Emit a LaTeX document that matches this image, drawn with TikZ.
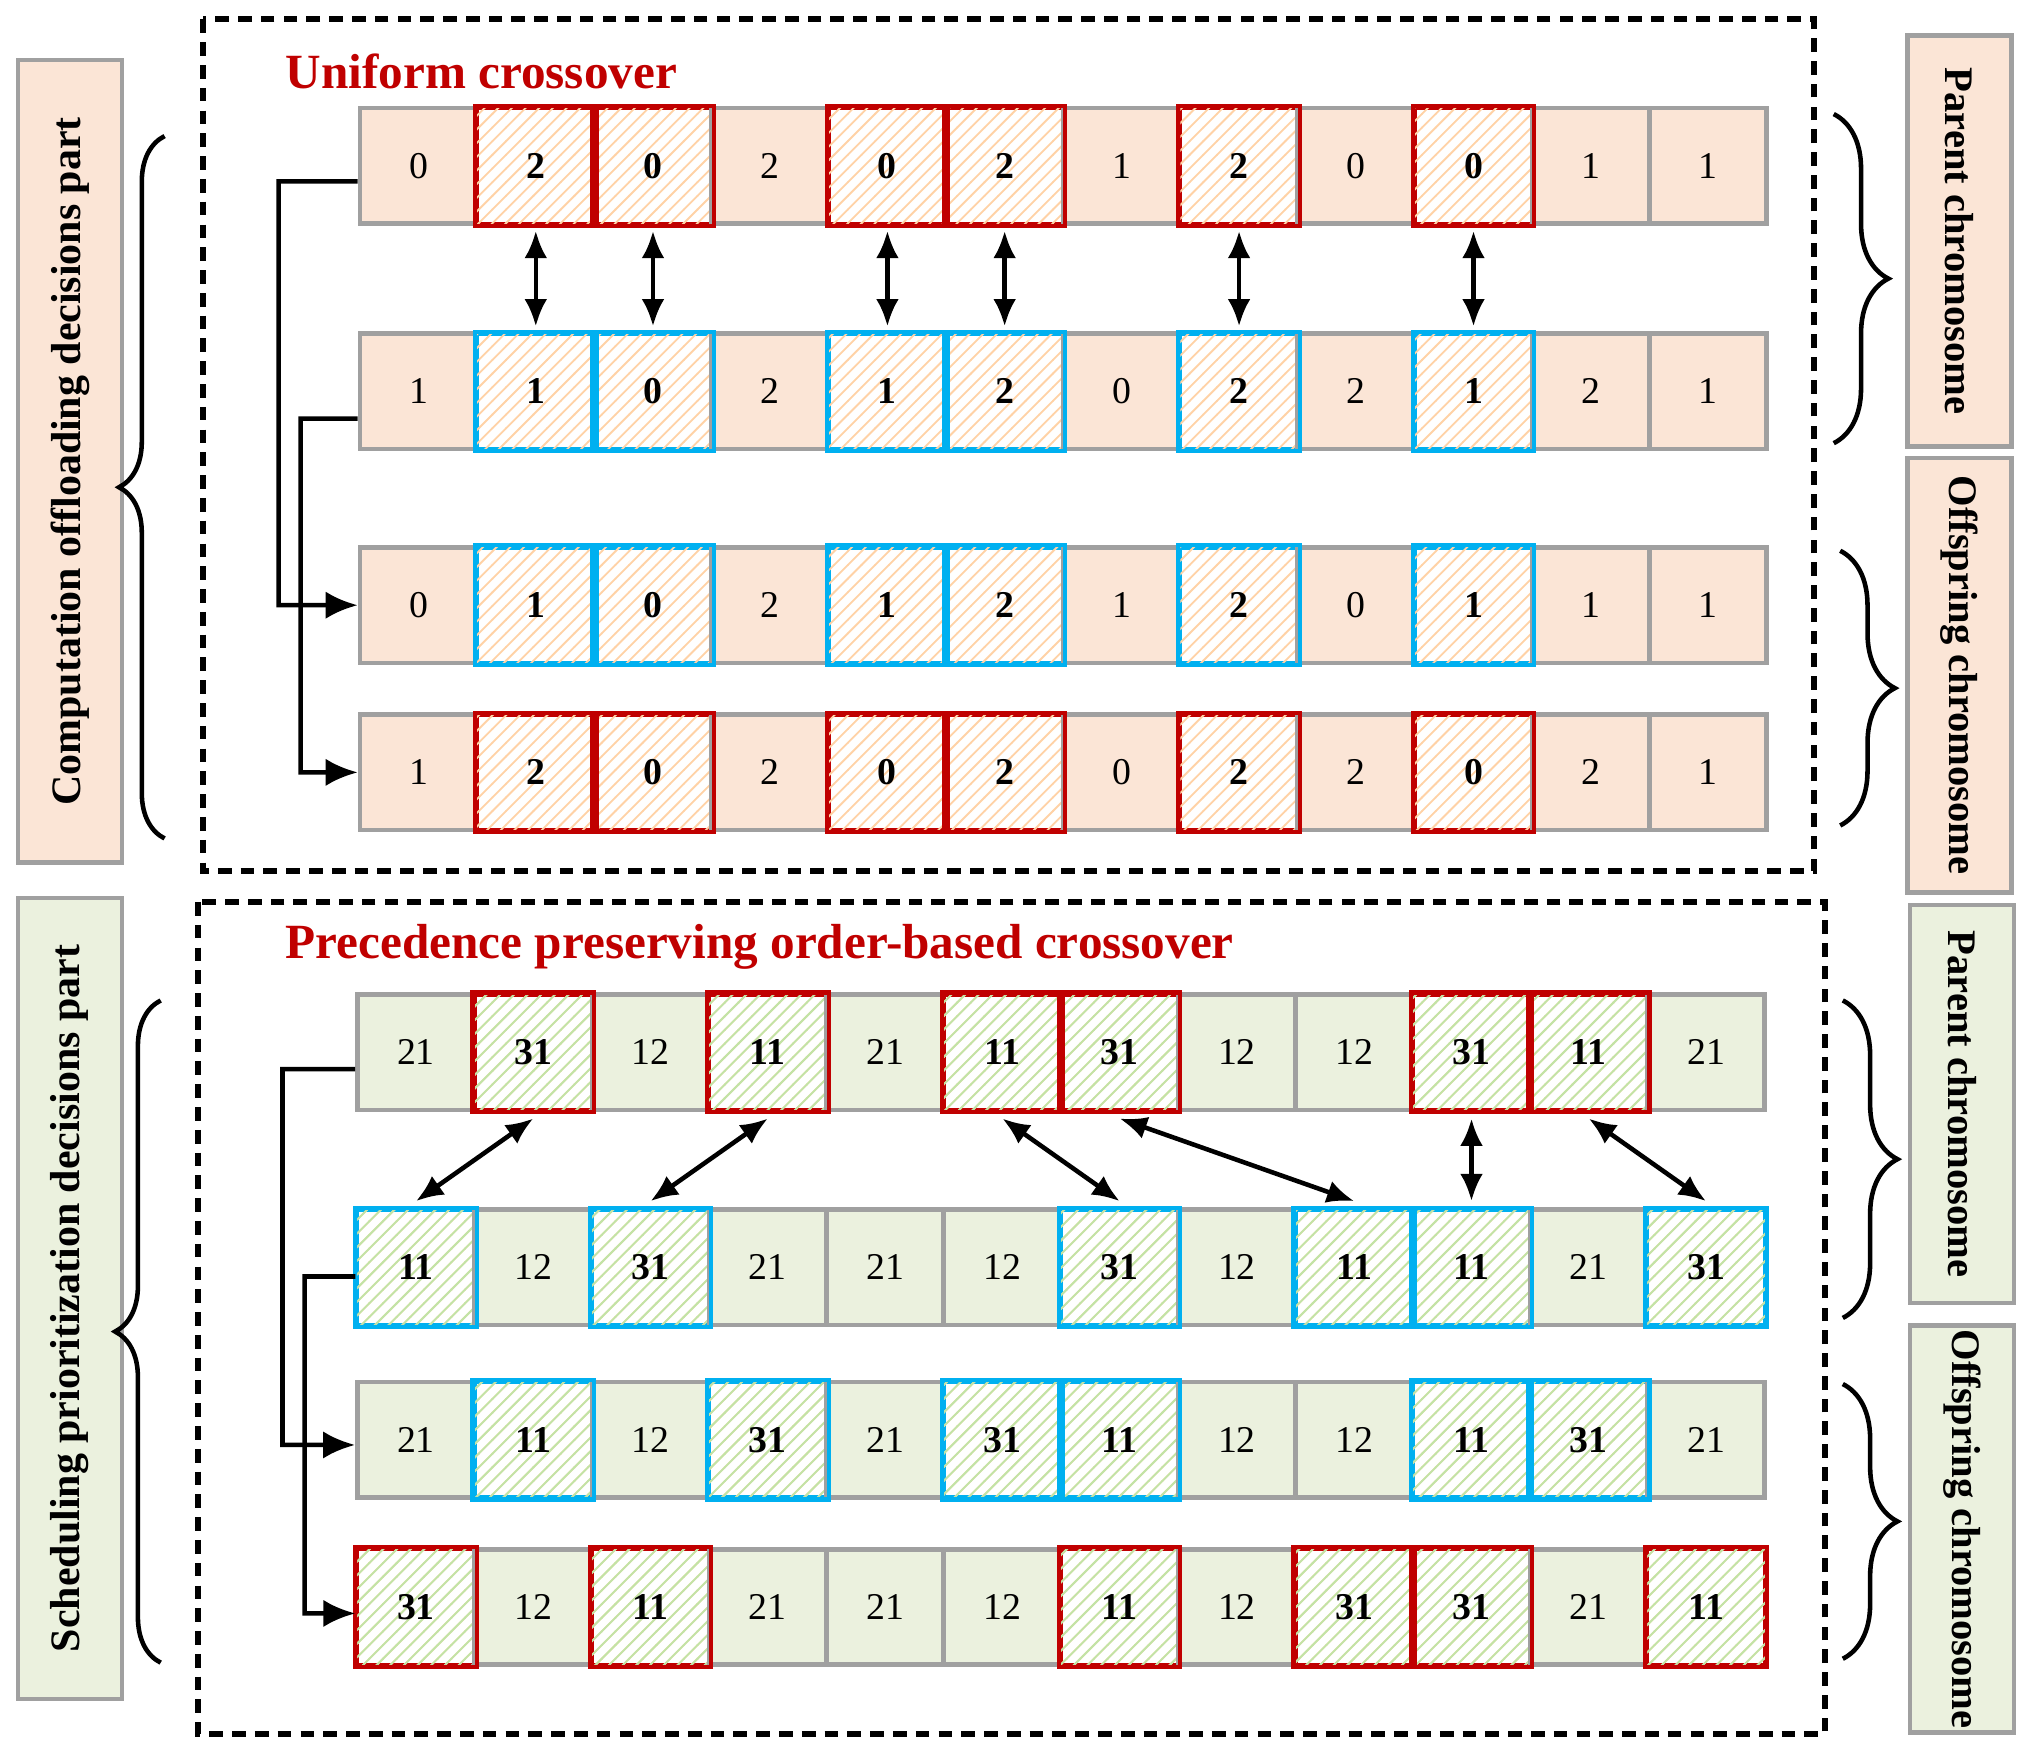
\documentclass[tikz,border=0pt]{standalone}
\usepackage{fontspec}
\setmainfont{Liberation Serif}
\usetikzlibrary{patterns,arrows.meta,decorations.pathreplacing}
\definecolor{torg}{HTML}{FBE5D6}
\definecolor{tgrn}{HTML}{EBF1DE}
\definecolor{hred}{HTML}{C00000}
\definecolor{hblu}{HTML}{00B0F0}
\definecolor{gbrd}{HTML}{A0A0A0}
\tikzset{
 cellbase/.style={minimum width=0.905cm,minimum height=0.89cm,inner sep=0pt,font=\fontsize{8.3pt}{9pt}\selectfont},
 tN/.style={cellbase,draw=gbrd,line width=1pt,fill=torg},
 bN/.style={cellbase,draw=gbrd,line width=1pt,fill=tgrn},
 tR/.style={cellbase,draw=hred,line width=0.9pt,fill=white,postaction={pattern=north east lines,pattern color=orange!35},font=\fontsize{8.3pt}{9pt}\selectfont\bfseries},
 tB/.style={tR,draw=hblu},
 bR/.style={tR,postaction={pattern=north east lines,pattern color=green!40!olive!35}},
 bB/.style={bR,draw=hblu},
 hl/.style={line width=0.9pt},
 lbl/.style={draw=gbrd,line width=1pt,minimum width=0.8cm,inner sep=0pt},
 lt/.style={font=\fontsize{9.2pt}{10pt}\selectfont\bfseries},
 rt/.style={font=\fontsize{8.9pt}{10pt}\selectfont\bfseries},
 dbox/.style={draw,dashed,line width=1.3pt,dash pattern=on 3pt off 2pt},
 conn/.style={line width=1pt,-{Latex[length=7pt,width=6pt]}},
 darr/.style={line width=1pt,{Latex[length=6pt,width=5pt]}-{Latex[length=6pt,width=5pt]}},
 br/.style={decorate,decoration={brace,amplitude=10pt},line width=1pt},
}
\begin{document}
\begin{tikzpicture}[x=0.01cm,y=-0.01cm]
\useasboundingbox (0,0) rectangle (1568,1354);
\draw[dbox] (157,15) rectangle (1400,672);
\draw[dbox] (153,696) rectangle (1408,1338);
\node[anchor=west,text=hred,font=\fontsize{10.8pt}{12pt}\selectfont\bfseries] (t1) at (208,55) {Uniform crossover};
\node[anchor=west,text=hred,font=\fontsize{10.8pt}{12pt}\selectfont\bfseries] (t2) at (208,731) {Precedence preserving order-based crossover};
\foreach \r/\y/\lst in {1/128/{0/tN,2/tR,0/tR,2/tN,0/tR,2/tR,1/tN,2/tR,0/tN,0/tR,1/tN,1/tN},
 2/302/{1/tN,1/tB,0/tB,2/tN,1/tB,2/tB,0/tN,2/tB,2/tN,1/tB,2/tN,1/tN},
 3/467/{0/tN,1/tB,0/tB,2/tN,1/tB,2/tB,1/tN,2/tB,0/tN,1/tB,1/tN,1/tN},
 4/596/{1/tN,2/tR,0/tR,2/tN,0/tR,2/tR,0/tN,2/tR,2/tN,0/tR,2/tN,1/tN}}{
 \foreach \v/\s [count=\i from 0] in \lst {
  \node[\s] (t\r c\i) at ({323+90.45*\i},\y) {\v};
 }
}
\foreach \r/\y/\lst in {1/812/{21/bN,31/bR,12/bN,11/bR,21/bN,11/bR,31/bR,12/bN,12/bN,31/bR,11/bR,21/bN},
 2/978/{11/bB,12/bN,31/bB,21/bN,21/bN,12/bN,31/bB,12/bN,11/bB,11/bB,21/bN,31/bB},
 3/1111/{21/bN,11/bB,12/bN,31/bB,21/bN,31/bB,11/bB,12/bN,12/bN,11/bB,31/bB,21/bN},
 4/1240/{31/bR,12/bN,11/bR,21/bN,21/bN,12/bN,11/bR,12/bN,31/bR,31/bR,21/bN,11/bR}}{
 \foreach \v/\s [count=\i from 0] in \lst {
  \node[\s] (b\r c\i) at ({321+90.5*\i},\y) {\v};
 }
}
\foreach \i in {1,2,4,5,7,9}{
 \draw[hred,hl] (t1c\i.south west) rectangle (t1c\i.north east);
 \draw[hred,hl] (t4c\i.south west) rectangle (t4c\i.north east);
 \draw[hblu,hl] (t2c\i.south west) rectangle (t2c\i.north east);
 \draw[hblu,hl] (t3c\i.south west) rectangle (t3c\i.north east);
 \draw[darr] ([yshift=-0.04cm]t1c\i.south) -- ([yshift=0.04cm]t2c\i.north);
}
\foreach \i in {1,3,5,6,9,10}{
 \draw[hred,hl] (b1c\i.south west) rectangle (b1c\i.north east);
 \draw[hblu,hl] (b3c\i.south west) rectangle (b3c\i.north east);
}
\foreach \i in {0,2,6,8,9,11}{
 \draw[hblu,hl] (b2c\i.south west) rectangle (b2c\i.north east);
 \draw[hred,hl] (b4c\i.south west) rectangle (b4c\i.north east);
}
\foreach \a/\b in {1/0,3/2,5/6,6/8,9/9,10/11}{
 \draw[darr] ([yshift=-0.05cm]b1c\a.south) -- ([yshift=0.05cm]b2c\b.north);
}
\coordinate (k1) at (215,140);
\draw[conn] ([yshift=-0.12cm]t1c0.west) -- (k1) |- (t3c0.west);
\coordinate (k2) at (232,323);
\draw[conn] ([yshift=-0.21cm]t2c0.west) -- (k2) |- (t4c0.west);
\coordinate (k3) at (218,825);
\draw[conn] ([yshift=-0.13cm]b1c0.west) -- (k3) |- ([yshift=-0.04cm]b3c0.west);
\coordinate (k4) at (235,985);
\draw[conn] ([yshift=-0.07cm]b2c0.west) -- (k4) |- ([yshift=-0.05cm]b4c0.west);
\node[lbl,fill=torg,minimum height=6.19cm] (L1) at (54,356) {};
\node[rotate=90,lt] (L1t) at (L1) {Computation offloading decisions part};
\node[lbl,fill=tgrn,minimum height=6.18cm] (L2) at (54,1002) {};
\node[rotate=90,lt] (L2t) at (L2) {Scheduling prioritization decisions part};
\node[lbl,fill=torg,minimum height=3.17cm] (R1) at (1512,186) {};
\node[rotate=-90,rt] (R1t) at (R1) {Parent chromosome};
\node[lbl,fill=torg,minimum height=3.35cm] (R2) at (1512,521) {};
\node[rotate=-90,rt] (R2t) at (R2) {Offspring chromosome};
\node[lbl,fill=tgrn,minimum height=3.07cm] (R3) at (1514,852) {};
\node[rotate=-90,rt] (R3t) at (R3) {Parent chromosome};
\node[lbl,fill=tgrn,minimum height=3.14cm] (R4) at (1514,1180) {};
\node[rotate=-90,rt] (R4t) at (R4) {Offspring\ chromosome};
\draw[br] (127,647) -- (127,105);
\draw[br] (124,1283) -- (124,772);
\draw[br,decoration={amplitude=12pt}] (1415,88) -- (1415,342);
\draw[br,decoration={amplitude=12pt}] (1420,425) -- (1420,637);
\draw[br,decoration={amplitude=12pt}] (1422,772) -- (1422,1017);
\draw[br,decoration={amplitude=12pt}] (1422,1068) -- (1422,1280);
\end{tikzpicture}
\end{document}
